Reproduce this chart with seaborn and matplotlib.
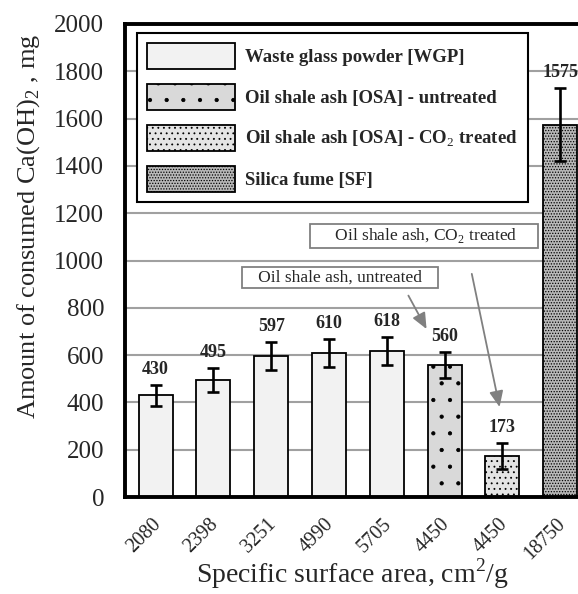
import matplotlib
matplotlib.use("Agg")
import matplotlib.pyplot as plt
import matplotlib.transforms as mtransforms
import seaborn as sns
import pandas as pd
from matplotlib.patches import Patch

# ---- data ----
surface_area = ["2080", "2398", "3251", "4990", "5705", "4450", "4450", "18750"]
consumed = [430, 495, 597, 610, 618, 560, 173, 1575]
errors = [45, 51, 60, 60, 60, 55, 55, 155]
material = ["WGP", "WGP", "WGP", "WGP", "WGP", "OSA-u", "OSA-c", "SF"]
legend_labels = ["Waste glass powder [WGP]",
                 "Oil shale ash [OSA] - untreated",
                 "Oil shale ash [OSA] - CO$_2$ treated",
                 "Silica fume [SF]"]

sns.set_theme(style="white")
plt.rcParams["font.family"] = ["Liberation Serif", "DejaVu Serif"]
plt.rcParams["mathtext.fontset"] = "custom"
plt.rcParams["mathtext.rm"] = "Liberation Serif"
plt.rcParams["mathtext.bf"] = "Liberation Serif:bold"
plt.rcParams["hatch.linewidth"] = 0.6
plt.rcParams["hatch.color"] = "black"

colors = {"WGP": "#f2f2f2", "OSA-u": "#d9d9d9", "OSA-c": "#e4e4e4", "SF": "#b8b8b8"}
hatches = {"WGP": "", "OSA-u": ".", "OSA-c": "...", "SF": "......"}

W, H = 578, 594
fig = plt.figure(figsize=(W / 100, H / 100), dpi=100)
left, right, top, bottom = 125, 586, 24, 497
ax = fig.add_axes([left / W, (H - bottom) / H, (right - left) / W, (bottom - top) / H])

pos = [str(i) for i in range(len(consumed))]
df = pd.DataFrame({"pos": pos, "value": consumed, "material": material})
sns.barplot(data=df, x="pos", y="value", hue="pos", palette=[colors[m] for m in material],
            legend=False, width=0.59, edgecolor="black", linewidth=1.3, ax=ax, zorder=2)
for p, m in zip(ax.patches, material):
    p.set_hatch(hatches[m])

ax.errorbar(range(len(consumed)), consumed, yerr=errors, fmt="none", ecolor="black",
            elinewidth=1.9, capsize=4.5, capthick=1.9, zorder=3)

for i, (v, e) in enumerate(zip(consumed, errors)):
    ax.annotate(str(v), (i, v + e), xytext=(0, 5), textcoords="offset points",
                ha="center", va="bottom", fontsize=13, fontweight="bold", zorder=4)

ax.set_ylim(0, 2000)
ax.set_yticks(range(0, 2001, 200))
ax.set_xlim(-0.53, -0.53 + (right - left) / 57.8)
ax.set_xticks(range(len(surface_area)))
ax.set_xticklabels(surface_area, rotation=45, fontsize=14.5, ha="right", rotation_mode="anchor")
ax.tick_params(axis="y", labelsize=18, length=0, pad=15)
ax.tick_params(axis="x", length=0, pad=13)
shift = mtransforms.ScaledTranslation(-4.5 / 100, 0, fig.dpi_scale_trans)
for lab in ax.get_xticklabels():
    lab.set_transform(lab.get_transform() + shift)
ax.yaxis.grid(True, color="#a0a0a0", linewidth=1.5, zorder=0)
ax.set_axisbelow(True)
for s in ["left", "bottom", "top"]:
    ax.spines[s].set_linewidth(2.8)
    ax.spines[s].set_color("black")
ax.spines["right"].set_visible(False)

ax.set_xlabel("Specific surface area, cm$^2$/g", fontsize=20)
ax.set_ylabel("Amount of consumed Ca(OH)$_2$ , mg", fontsize=19)
ax.xaxis.set_label_coords((352 - left) / (right - left), -(556 - bottom) / (bottom - top))
ax.yaxis.set_label_coords(-(left - 42) / (right - left), (bottom - 226) / (bottom - top))

handles = [Patch(facecolor=colors[m], edgecolor="black", hatch=hatches[m], linewidth=1.3)
           for m in ["WGP", "OSA-u", "OSA-c", "SF"]]
leg = ax.legend(handles, legend_labels, loc="upper left",
                bbox_to_anchor=((137 - left) / (right - left), (bottom - 33) / (bottom - top)),
                borderaxespad=0,
                prop={"family": "Liberation Serif", "weight": "bold", "size": 13.5},
                handlelength=4.7, handleheight=1.75, labelspacing=0.8, handletextpad=0.5,
                borderpad=0.55, fancybox=False, framealpha=1, edgecolor="black")
leg.get_frame().set_linewidth(1.5)

ax.text(4.645, 1104, "     Oil shale ash, CO$_2$ treated     ", ha="center", va="center",
        fontsize=12.5, bbox=dict(boxstyle="square,pad=0.15", facecolor="white",
                                 edgecolor="#808080", linewidth=1.3), zorder=5)
ax.text(3.19, 928, "   Oil shale ash, untreated   ", ha="center", va="center",
        fontsize=12.5, bbox=dict(boxstyle="square,pad=0.15", facecolor="white",
                                 edgecolor="#808080", linewidth=1.3), zorder=5)
arrow = dict(arrowstyle="-|>,head_length=0.8,head_width=0.35", color="#808080", lw=1.3)
ax.annotate("", xy=(5.96, 369), xytext=(5.46, 955), arrowprops=arrow, zorder=5)
ax.annotate("", xy=(4.71, 700), xytext=(4.35, 862), arrowprops=arrow, zorder=5)

fig.savefig("out.png", dpi=100)
